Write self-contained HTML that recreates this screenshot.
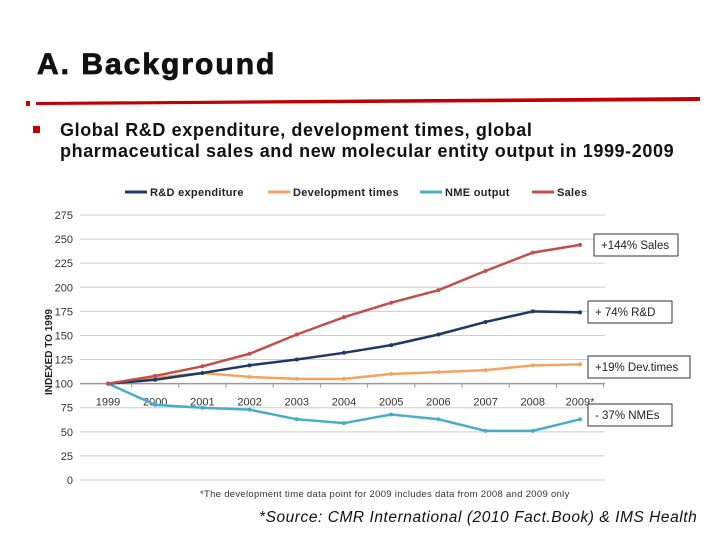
<!DOCTYPE html>
<html><head><meta charset="utf-8"><style>
body{margin:0;width:720px;height:540px;background:#fff;font-family:"Liberation Sans",sans-serif;position:relative;overflow:hidden}
.t{position:absolute;white-space:nowrap}
</style></head><body>
<div class="t" style="left:37px;top:48px;font-size:30px;font-weight:bold;color:#111;letter-spacing:2px;-webkit-text-stroke:0.8px #111">A. Background</div>
<svg width="720" height="20" style="position:absolute;left:0;top:94px">
<rect x="26" y="7" width="4" height="5" fill="#c00000"/>
<polygon points="36,8 700,3 700,7 36,11" fill="#c00000"/>
</svg>
<div class="t" style="left:33px;top:126px;width:7px;height:7px;background:#c00000"></div>
<div class="t" style="left:60px;top:120px;font-size:18px;font-weight:bold;color:#111;line-height:21px;letter-spacing:0.6px">Global R&amp;D expenditure, development times, global<br>pharmaceutical sales and new molecular entity output in 1999-2009</div>
<svg id="chart" width="720" height="540" style="position:absolute;left:0;top:0"></svg>
<div class="t" style="left:259px;top:509px;font-size:15.5px;font-style:italic;color:#111;letter-spacing:0.55px">*Source: CMR International (2010 Fact.Book) &amp; IMS Health</div>
<script>
const years=["1999","2000","2001","2002","2003","2004","2005","2006","2007","2008","2009*"];
const yTicks=[0,25,50,75,100,125,150,175,200,225,250,275];
const sales=[100,108,118,131,151,169,184,197,217,236,244];
const rnd=[100,104,111,119,125,132,140,151,164,175,174];
const dev=[100,106,111,107,105,105,110,112,114,119,120];
const nme=[100,78,75,73,63,59,68,63,51,51,63];
const seriesNames=["R&D expenditure","Development times","NME output","Sales"];
const annotations=["+144% Sales","+ 74% R&D","+19% Dev.times","- 37% NMEs"];
const NS="http://www.w3.org/2000/svg";
const svg=document.getElementById('chart');
const X=i=>108+i*47.2;
const Y=v=>480-v*265/275;
function mk(t,a,p){const e=document.createElementNS(NS,t);for(const k in a)e.setAttribute(k,a[k]);(p||svg).appendChild(e);return e;}
yTicks.forEach(v=>{
 const l=mk('line',{x1:80,x2:605,y1:Y(v),y2:Y(v),stroke:v===100?'#999':'#ccc','stroke-width':v===100?1.5:1});
 
 
 const t=mk('text',{x:73,y:Y(v)+4,'text-anchor':'end','font-size':11,fill:'#333'});t.textContent=v;
 
 
});
years.forEach((y,i)=>{
 const t=mk('text',{x:X(i),y:Y(100)+22,'text-anchor':'middle','font-size':11,fill:'#333'});t.textContent=y;
 
 
 mk('line',{x1:X(i)+23.6,x2:X(i)+23.6,y1:Y(100),y2:Y(100)+4,stroke:'#999'});
});
const yt=mk('text',{transform:'translate(52,352) rotate(-90)','text-anchor':'middle','font-size':10,'font-weight':'bold',fill:'#222'});yt.textContent='INDEXED TO 1999';


const colors=['#1f3864','#f4a460','#4bacc6','#c0504d'];
const data=[rnd,dev,nme,sales];
[2,1,0,3].forEach(s=>{
 const p=mk('polyline',{points:data[s].map((v,i)=>X(i)+','+Y(v)).join(' '),fill:'none',stroke:colors[s],'stroke-width':2.5});
 
 
 data[s].forEach((v,i)=>mk('circle',{cx:X(i),cy:Y(v),r:2,fill:colors[s]}));
});
const lx=[125,268,420,532];
seriesNames.forEach((n,i)=>{
 mk('line',{x1:lx[i],x2:lx[i]+22,y1:192,y2:192,stroke:colors[i],'stroke-width':3});
 const t=mk('text',{x:lx[i]+25,y:196,'font-size':11,'font-weight':'bold',fill:'#222','letter-spacing':0.3});t.textContent=n;
 
 
});
const boxes=[[594,234,84],[588,301,84],[588,356,102],[588,404,84]];
annotations.forEach((a,i)=>{
 const b=boxes[i];
 mk('rect',{x:b[0],y:b[1],width:b[2],height:22,fill:'#fff',stroke:'#333'});
 const t=mk('text',{x:b[0]+7,y:b[1]+15,'font-size':11.5,fill:'#222'});t.textContent=a;
 
 
});
const fn=mk('text',{x:200,y:497,'font-size':9.5,fill:'#333','letter-spacing':0.3});fn.textContent='*The development time data point for 2009 includes data from 2008 and 2009 only';


</script>
</body></html>
